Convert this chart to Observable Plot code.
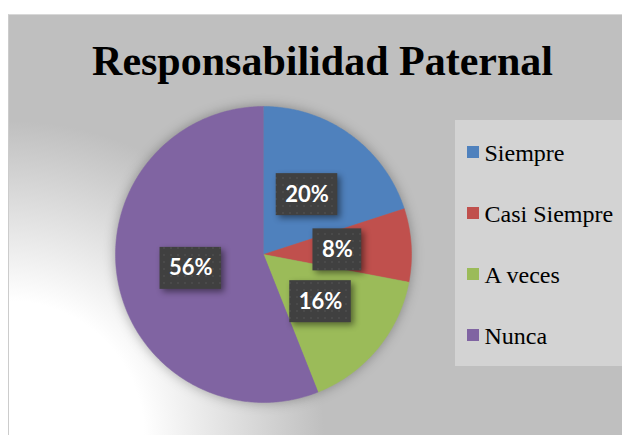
<!DOCTYPE html>
<html><head><meta charset="utf-8">
<script src="https://cdn.jsdelivr.net/npm/d3@7"></script>
<script src="https://cdn.jsdelivr.net/npm/@observablehq/plot@0.6"></script>
<style>
html,body{margin:0;padding:0;background:#fff;}
#wrap{position:relative;width:622px;height:435px;overflow:hidden;}
#bg{position:absolute;left:8px;top:14px;width:614px;height:421px;border-left:1px solid #cccccc;border-top:1px solid #d8d8d8;box-sizing:border-box;
  background:radial-gradient(circle at 0px 421px,#ffffff 0px,#ffffff 135px,#bfbfbf 315px);}
#chart{position:absolute;left:0;top:0;}
</style></head><body>
<div id="wrap"><div id="bg"></div><div id="chart"></div></div>
<script>
const title = "Responsabilidad Paternal";
const categories = ["Siempre", "Casi Siempre", "A veces", "Nunca"];
const values = [20, 8, 16, 56];
const labels = ["20%", "8%", "16%", "56%"];
const colors = ["#4f81bd", "#c0504d", "#9bbb59", "#8064a2"];

const W = 622, H = 435, cx = 263, cy = 254, R = 148;
const serif = "'Liberation Serif', 'Times New Roman', serif";
const rows = categories.map((c, i) => ({cat: c, value: values[i], label: labels[i], i}));
const arcs = d3.pie().sort(null).value(d => d.value)(rows);

const slicePts = [];
for (const a of arcs) {
  slicePts.push({cat: a.data.cat, x: cx, y: cy});
  const n = Math.max(8, Math.ceil((a.endAngle - a.startAngle) * 80));
  for (let k = 0; k <= n; k++) {
    const t = a.startAngle + (a.endAngle - a.startAngle) * k / n;
    slicePts.push({cat: a.data.cat, x: cx + R * Math.sin(t), y: cy - R * Math.cos(t)});
  }
}

const ctx = document.createElement("canvas").getContext("2d");
ctx.font = "bold 22px Lato";
const labelBoxes = arcs.map(a => {
  const m = (a.startAngle + a.endAngle) / 2;
  const x = cx + 0.5 * R * Math.sin(m), y = cy - 0.5 * R * Math.cos(m);
  const w = ctx.measureText(a.data.label).width + 18, h = 42;
  return {label: a.data.label, x, y, x1: x - w / 2, x2: x + w / 2, y1: y - h / 2, y2: y + h / 2};
});

const legendRows = rows.map(r => ({...r, sy: 152 + 61 * r.i}));

const chart = Plot.plot({
  width: W, height: H, margin: 0,
  x: {type: "identity", axis: null},
  y: {type: "identity", axis: null},
  color: {domain: categories, range: colors},
  style: {background: "transparent", overflow: "visible"},
  marks: [
    Plot.text([title], {x: () => 322, y: () => 74, text: d => d, lineAnchor: "bottom",
      fontFamily: serif, fontWeight: "bold", fontSize: 42, fill: "#000"}),
    Plot.line(slicePts, {x: "x", y: "y", z: "cat", fill: "cat", stroke: "cat", strokeWidth: 0.5, curve: "linear"}),
    Plot.rect(labelBoxes, {x1: "x1", x2: "x2", y1: "y1", y2: "y2", fill: "#404040"}),
    Plot.text(labelBoxes, {x: "x", y: "y", text: "label", fill: "#ffffff", fontFamily: "Lato",
      fontWeight: "bold", fontSize: 22, lineAnchor: "middle"}),
    Plot.rect([0], {x1: () => 455, x2: () => 640, y1: () => 120, y2: () => 366, fill: "#d3d3d3"}),
    Plot.rect(legendRows, {x1: () => 467, x2: () => 479, y1: d => d.sy - 6, y2: d => d.sy + 6, fill: "cat"}),
    Plot.text(legendRows, {x: () => 484, y: d => d.sy + 8, text: "cat", textAnchor: "start", lineAnchor: "bottom",
      fontFamily: serif, fontSize: 24, fill: "#000"})
  ]
});
document.getElementById("chart").appendChild(chart);

// subtle dotted texture for the data-label boxes
const ns = "http://www.w3.org/2000/svg";
const defs = document.createElementNS(ns, "defs");
defs.innerHTML = '<pattern id="dots" width="7" height="7" patternUnits="userSpaceOnUse">' +
  '<rect width="7" height="7" fill="#404040"/><rect x="2" y="2" width="2" height="2" fill="#4a4a4a"/></pattern>';
chart.insertBefore(defs, chart.firstChild);

const lines = chart.querySelectorAll('g[aria-label="line"]');
lines.forEach(g => g.style.filter = "drop-shadow(0px 0px 6px rgba(0,0,0,0.3))");
const rectGroups = chart.querySelectorAll('g[aria-label="rect"]');
if (rectGroups[0]) {
  rectGroups[0].style.filter = "drop-shadow(3px 3px 3px rgba(0,0,0,0.45))";
  rectGroups[0].querySelectorAll("rect").forEach(r => r.setAttribute("fill", "url(#dots)"));
}
</script>
</body></html>
